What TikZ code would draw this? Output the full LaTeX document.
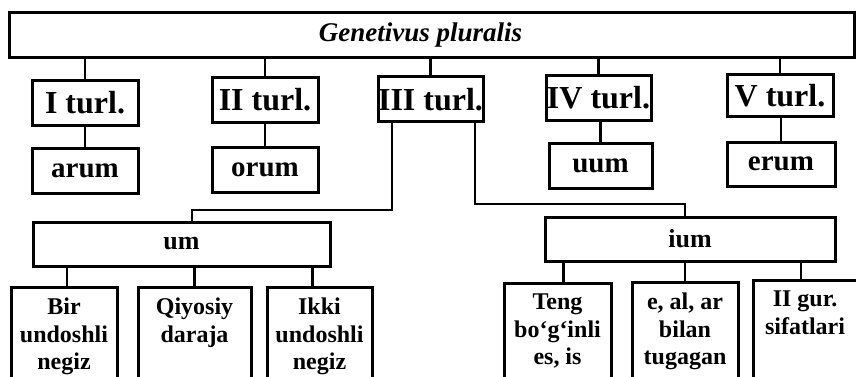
\documentclass[tikz,border=0pt]{standalone}
\usepackage{fontspec}
\setmainfont{Liberation Serif}
\pgfdeclarelayer{bg}
\pgfsetlayers{bg,main}
\tikzset{
    every node/.style={rectangle, draw, line width=3pt, inner sep=0mm, outer sep=0mm, align=center}
}
\tikzset{turlbox/.style={minimum width=106pt, minimum height=45pt, font=\bfseries\fontsize{32}{34}\selectfont}}
\tikzset{sufbox/.style={minimum width=106pt, minimum height=45pt, font=\bfseries\fontsize{29}{31}\selectfont}}
\tikzset{groupbox/.style={minimum height=44pt, font=\bfseries\fontsize{26}{28}\selectfont}}
\tikzset{leafbox/.style={anchor=north, inner ysep=11pt, text depth=120pt, font=\bfseries\fontsize{24}{27.5}\selectfont}}
\tikzset{link/.style={line width=2.4pt}}

\begin{document}
\begin{tikzpicture}[x=1pt, y=-1pt]
        \useasboundingbox (0,0) rectangle (856,377);
        \clip (0,0) rectangle (856,377);
        \node (top) [minimum width=845pt, minimum height=45pt, font=\bfseries\itshape\fontsize{27}{29}\selectfont] at (431.5,35.5) {Genetivus pluralis\hspace*{22pt}};
        \node (t1) [turlbox] at (85,103) {I turl.};
        \node (t2) [turlbox] at (265,100) {II turl.};
        \node (t3) [turlbox, minimum width=105pt] at (430.5,99.5) {III turl.};
        \node (t4) [turlbox, minimum width=105pt] at (598.5,98) {IV turl.};
        \node (t5) [turlbox, minimum height=42pt] at (780,96) {V turl.};
        \node (s1) [sufbox] at (85,170.5) {arum};
        \node (s2) [sufbox] at (265,169.5) {orum};
        \node (s4) [sufbox, minimum width=103pt] at (600.5,165.5) {uum};
        \node (s5) [sufbox, minimum width=108pt, minimum height=44pt] at (781,164) {erum};
        \node (um) [groupbox, minimum width=297pt] at (181.5,244) {um};
        \node (ium) [groupbox, minimum width=290pt] at (690,239) {ium};
        \node (b1) [leafbox, minimum width=106pt] at (64,287) {Bir\\undoshli\\negiz};
        \node (b2) [leafbox, minimum width=113pt] at (194.5,287) {Qiyosiy\\daraja};
        \node (b3) [leafbox, minimum width=105pt] at (319.5,287) {Ikki\\undoshli\\negiz};
        \node (b4) [leafbox, minimum width=107pt] at (557.5,283) {Teng\\bo‘g‘inli\\es, is};
        \node (b5) [leafbox, minimum width=106pt] at (685,282) {e, al, ar\\bilan\\tugagan};
        \node (b6) [leafbox, minimum width=104pt] at (805,280) {II gur.\\sifatlari};
        \begin{pgfonlayer}{bg}
                \draw [link] (t1.north) -- (t1.north |- top.south);
                \draw [link] (t2.north) -- (t2.north |- top.south);
                \draw [link] (t3.north) -- (t3.north |- top.south);
                \draw [link] (t4.north) -- (t4.north |- top.south);
                \draw [link] (t5.north) -- (t5.north |- top.south);
                \draw [link] (t1.south) -- (s1.north);
                \draw [link] (t2.south) -- (s2.north);
                \draw [link] (s4.north) -- (s4.north |- t4.south);
                \draw [link] (s5.north) -- (s5.north |- t5.south);
                \draw [link] ([xshift=-38.5pt]t3.south) -- ++(0,88) -| ([xshift=10.5pt]um.north);
                \draw [link] ([xshift=44.5pt]t3.south) -- ++(0,82) -| ([xshift=-5pt]ium.north);
                \draw [link] ([xshift=3pt]b1.north) -- ([xshift=3pt]b1.north |- um.south);
                \draw [link] (b2.north) -- (b2.north |- um.south);
                \draw [link] ([xshift=-7pt]b3.north) -- ([xshift=-7pt]b3.north |- um.south);
                \draw [link] ([xshift=6pt]b4.north) -- ([xshift=6pt]b4.north |- ium.south);
                \draw [link] (b5.north) -- (b5.north |- ium.south);
                \draw [link] ([xshift=-4pt]b6.north) -- ([xshift=-4pt]b6.north |- ium.south);
        \end{pgfonlayer}
\end{tikzpicture}
\end{document}
